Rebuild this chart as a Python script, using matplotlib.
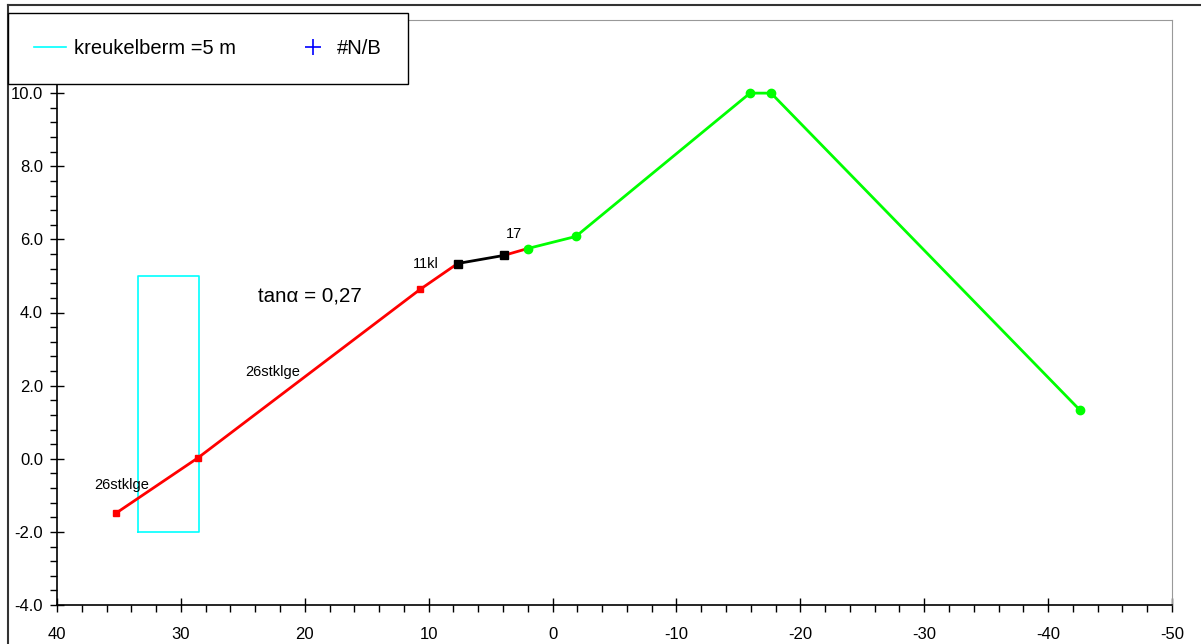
import numpy as np
from matplotlib import pyplot as plt
from matplotlib.lines import Line2D

plt.rcParams['font.family'] = ['Liberation Sans', 'DejaVu Sans']
plt.rcParams['axes.unicode_minus'] = False

# taludprofiel (x = afstand, y = hoogte)
red_x = [35.2, 28.6, 10.7, 7.66]
red_y = [-1.48, 0.03, 4.63, 5.34]
black_x = [7.66, 3.95]
black_y = [5.34, 5.56]
red2_x = [3.95, 2.0]
red2_y = [5.56, 5.75]
green_x = [2.0, -1.88, -15.94, -17.64, -42.54]
green_y = [5.75, 6.08, 10.0, 10.0, 1.34]

# kreukelberm
berm_x = [33.5, 28.5, 28.5, 33.5, 33.5]
berm_y = [-2.0, -2.0, 5.0, 5.0, -2.0]

# #N/B reeks (leeg)
nb_x = []
nb_y = []

labels = [("26stklge", 37.0, -0.71), ("26stklge", 24.8, 2.36), ("11kl", 11.3, 5.34), ("17", 3.78, 6.16)]

fig = plt.figure(figsize=(12.01, 6.44), dpi=100)
ax = fig.add_axes([57/1201, 1-605/644, (1172-57)/1201, (605-20)/644])

ax.plot(berm_x, berm_y, color="#00ffff", lw=1.2, label="kreukelberm =5 m")
ax.plot(nb_x, nb_y, "+", color="blue", ms=11, mew=1.2, label="#N/B")
ax.plot(red_x, red_y, "-s", color="red", lw=2, ms=4)
ax.plot(red2_x, red2_y, "-", color="red", lw=2)
ax.plot(black_x, black_y, "-s", color="black", lw=2, ms=6)
ax.plot(green_x, green_y, "-o", color="#00ff00", lw=2, ms=6)

for txt, x, y in labels:
    ax.text(x, y, txt, fontsize=10.5, ha="left", va="center")
ax.text(23.75, 4.44, "tan\u03b1 = 0,27", fontsize=14.8, ha="left", va="center")

ax.set_xlim(40, -50)
ax.set_ylim(-4, 12)
ax.set_xticks(np.arange(40, -51, -10))
ax.set_xticks(np.arange(40, -51, -2), minor=True)
ax.set_yticks(np.arange(-4, 10.1, 2))
ax.set_yticks(np.arange(-4, 12.01, 0.4), minor=True)
ax.set_yticklabels(["%.1f" % v for v in np.arange(-4, 10.1, 2)])
ax.tick_params(which="major", direction="inout", length=10, width=1, labelsize=12)
ax.tick_params(axis="x", which="major", pad=10.5)
ax.tick_params(axis="y", which="major", pad=5)
ax.tick_params(which="minor", direction="out", length=5, width=1)

ax.spines["top"].set_color("#999999")
ax.spines["right"].set_color("#999999")
ax.spines["left"].set_linewidth(1.2)
ax.spines["bottom"].set_linewidth(1.2)

fig.legend(loc="upper left", bbox_to_anchor=(8/1201, 1-13/644), ncol=2, fontsize=14.5,
           frameon=True, fancybox=False, edgecolor="black", framealpha=1,
           borderaxespad=0, borderpad=1.3, handlelength=1.6, handletextpad=0.4,
           columnspacing=3.0)

# buitenkader
fig.add_artist(Line2D([8/1201, 1], [1-5/644, 1-5/644], color="#333333", lw=1.5))
fig.add_artist(Line2D([8/1201, 8/1201], [0, 1-5/644], color="#333333", lw=1.5))

fig.savefig("out.png", dpi=100)
